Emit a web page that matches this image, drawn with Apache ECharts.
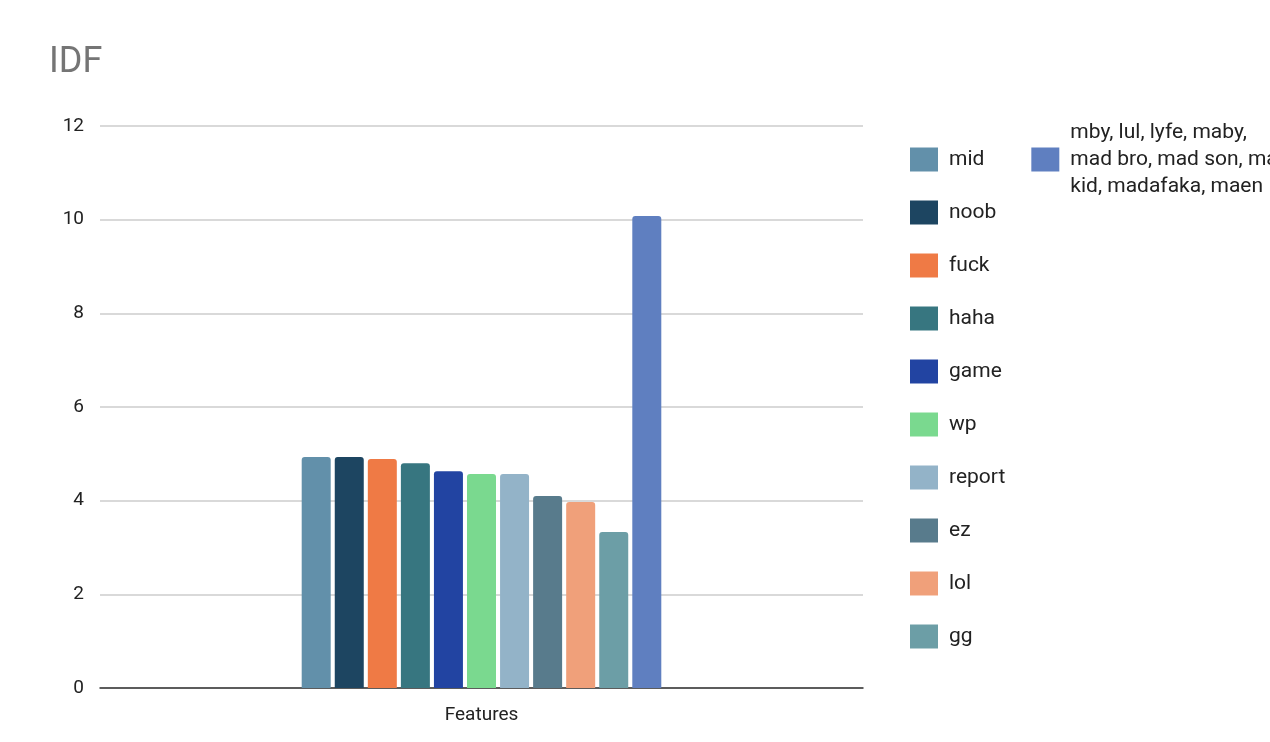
<!DOCTYPE html>
<html>
<head>
<meta charset="utf-8">
<title>IDF</title>
<script src="https://cdn.jsdelivr.net/npm/echarts@6/dist/echarts.min.js"></script>
<style>html,body{margin:0;padding:0;background:#fff}</style>
</head>
<body>
<div id="main" style="width:1270px;height:742px;"></div>
<script>
var categories = ['Features'];
var names = ['mid', 'noob', 'fuck', 'haha', 'game', 'wp', 'report', 'ez', 'lol', 'gg',
    'mby, lul, lyfe, maby, mad bro, mad son, mad kid, madafaka, maen'];
var values = [4.93, 4.93, 4.89, 4.80, 4.63, 4.57, 4.57, 4.10, 3.97, 3.33, 10.08];
var colors = ['#6290aa', '#1d4561', '#ef7a45', '#377680', '#2244a2', '#7ad98f', '#93b3c8', '#587b8c', '#f0a07a', '#6c9ea6', '#5f7fc0'];
var yTicks = [0, 2, 4, 6, 8, 10, 12];

var series = names.map(function (n, i) {
    return {
        name: n,
        type: 'bar',
        barWidth: 29,
        barGap: '14%',
        itemStyle: {color: colors[i], borderRadius: [3, 3, 0, 0]},
        data: [values[i]]
    };
});

var myChart = echarts.init(document.getElementById('main'));
myChart.setOption({
    animation: false,
    title: {text: 'IDF', left: 44, top: 40, textStyle: {fontFamily: 'Roboto', fontSize: 36, fontWeight: 'normal', color: '#757575'}},
    grid: {left: 100, right: 407, top: 126, bottom: 54},
    legend: {
        orient: 'vertical', left: 905, top: 114, height: 620, itemWidth: 28, itemHeight: 24, itemGap: 26,
        icon: 'rect',
        textStyle: {fontFamily: 'Roboto', fontSize: 21, color: '#222', lineHeight: 27, padding: [0, 0, 0, 6]},
        formatter: function (n) {
            if (n.length > 20) return 'mby, lul, lyfe, maby,\nmad bro, mad son, mad\nkid, madafaka, maen';
            return n;
        },
        data: names
    },
    xAxis: {
        type: 'category', data: categories,
        axisTick: {show: false},
        axisLine: {lineStyle: {color: '#333', width: 1.5}},
        axisLabel: {fontFamily: 'Roboto', fontSize: 19, color: '#222', margin: 18}
    },
    yAxis: {
        type: 'value', min: yTicks[0], max: yTicks[yTicks.length - 1], interval: 2,
        axisLabel: {fontFamily: 'Roboto', fontSize: 19, color: '#222', margin: 16},
        splitLine: {lineStyle: {color: '#ccc', width: 1.5}}
    },
    series: series
});
</script>
</body>
</html>
